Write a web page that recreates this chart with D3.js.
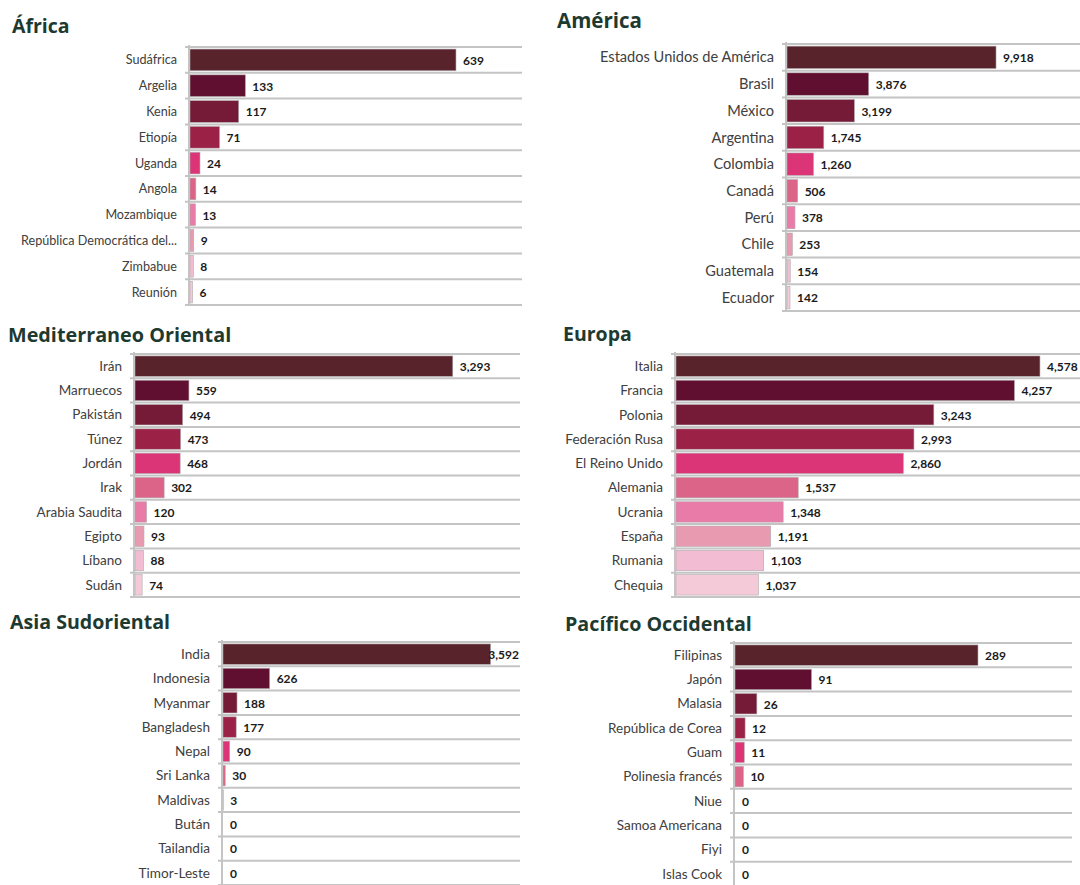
<!DOCTYPE html>
<html>
<head>
<meta charset="utf-8">
<script src="https://cdn.jsdelivr.net/npm/d3@7"></script>
<style>
	body { margin: 0; background: #fff; }
	svg { display: block; }
	.title { font-family: "Open Sans", sans-serif; font-weight: 700; fill: #1e3a30; }
	.cat text { font-family: Lato, sans-serif; fill: #404040; }
	.val { font-family: Lato, sans-serif; font-weight: 700; font-size: 12px; fill: #1a1a1a; }
</style>
</head>
<body>
<div id="chart"></div>
<script>
// data
const africaCountries = ["Sudáfrica", "Argelia", "Kenia", "Etiopía", "Uganda", "Angola", "Mozambique", "República Democrática del...", "Zimbabue", "Reunión"];
const africaValues = [639, 133, 117, 71, 24, 14, 13, 9, 8, 6];

const americaCountries = ["Estados Unidos de América", "Brasil", "México", "Argentina", "Colombia", "Canadá", "Perú", "Chile", "Guatemala", "Ecuador"];
const americaValues = [9918, 3876, 3199, 1745, 1260, 506, 378, 253, 154, 142];

const medCountries = ["Irán", "Marruecos", "Pakistán", "Túnez", "Jordán", "Irak", "Arabia Saudita", "Egipto", "Líbano", "Sudán"];
const medValues = [3293, 559, 494, 473, 468, 302, 120, 93, 88, 74];

const europaCountries = ["Italia", "Francia", "Polonia", "Federación Rusa", "El Reino Unido", "Alemania", "Ucrania", "España", "Rumania", "Chequia"];
const europaValues = [4578, 4257, 3243, 2993, 2860, 1537, 1348, 1191, 1103, 1037];

const asiaCountries = ["India", "Indonesia", "Myanmar", "Bangladesh", "Nepal", "Sri Lanka", "Maldivas", "Bután", "Tailandia", "Timor-Leste"];
const asiaValues = [3592, 626, 188, 177, 90, 30, 3, 0, 0, 0];

const pacificoCountries = ["Filipinas", "Japón", "Malasia", "República de Corea", "Guam", "Polinesia francés", "Niue", "Samoa Americana", "Fiyi", "Islas Cook"];
const pacificoValues = [289, 91, 26, 12, 11, 10, 0, 0, 0, 0];

const rankColors = ["#58232b", "#610f31", "#751b37", "#9c2147", "#dc3577", "#dc6489", "#e97ba8", "#e89ab1", "#f2bdd2", "#f4cad9"];

// layout of each panel
const panels = [
	{ title: "África", names: africaCountries, values: africaValues, max: 800,
	  tx: 12, ty: 33, ts: 19.5, fs: 12.6, x0: 189, x1: 522, top: 47, bottom: 305 },
	{ title: "América", names: americaCountries, values: americaValues, max: 13950,
	  tx: 557, ty: 28, ts: 20.5, fs: 14.6, x0: 786, x1: 1080, top: 44, bottom: 311 },
	{ title: "Mediterraneo Oriental", names: medCountries, values: medValues, max: 4000,
	  tx: 8, ty: 342, ts: 19.8, fs: 13.5, x0: 134, x1: 520, top: 354, bottom: 597 },
	{ title: "Europa", names: europaCountries, values: europaValues, max: 5094,
	  tx: 563, ty: 341, ts: 19.5, fs: 13.6, x0: 675, x1: 1080, top: 354, bottom: 597 },
	{ title: "Asia Sudoriental", names: asiaCountries, values: asiaValues, max: 4000,
	  tx: 10, ty: 629, ts: 19.6, fs: 13.6, x0: 222, x1: 520, top: 642, bottom: 885 },
	{ title: "Pacífico Occidental", names: pacificoCountries, values: pacificoValues, max: 402,
	  tx: 565, ty: 631, ts: 19.7, fs: 13.5, x0: 734, x1: 1072, top: 643, bottom: 886 }
];

const svg = d3.select("#chart").append("svg")
	.attr("width", 1080)
	.attr("height", 885);

const fmt = d3.format(",");

panels.forEach(p => {
	const g = svg.append("g");
	const data = p.names.map((n, i) => ({ name: n, value: p.values[i], rank: i }));

	const x = d3.scaleLinear().domain([0, p.max]).range([p.x0, p.x1]);
	const y = d3.scaleBand()
		.domain(p.names)
		.range([p.top, p.bottom])
		.paddingInner(0.16)
		.paddingOuter(0.08);

	g.append("text")
		.attr("class", "title")
		.attr("x", p.tx)
		.attr("y", p.ty)
		.style("font-size", p.ts + "px")
		.text(p.title);

	// row separators
	const step = y.step();
	g.selectAll("line.grid")
		.data(d3.range(p.names.length + 1))
		.enter().append("line")
		.attr("class", "grid")
		.attr("x1", p.x0 - 4)
		.attr("x2", p.x1)
		.attr("y1", i => p.top + i * step)
		.attr("y2", i => p.top + i * step)
		.attr("stroke", "#c4c4c4")
		.attr("stroke-width", 2);

	g.selectAll("rect")
		.data(data.filter(d => d.value > 0))
		.enter().append("rect")
		.attr("x", x(0) + 1)
		.attr("y", d => y(d.name))
		.attr("width", d => x(d.value) - x(0))
		.attr("height", y.bandwidth())
		.attr("fill", d => rankColors[d.rank])
		.attr("stroke", "#b0a8aa")
		.attr("stroke-width", 0.6);

	// category axis
	const yAxisG = g.append("g")
		.attr("class", "cat")
		.attr("transform", `translate(${p.x0},0)`)
		.call(d3.axisLeft(y).tickSize(0).tickPadding(12));
	yAxisG.select(".domain").remove();
	yAxisG.selectAll("text")
		.attr("dy", "0.35em")
		.style("font-size", p.fs + "px");

	g.append("line")
		.attr("x1", p.x0)
		.attr("x2", p.x0)
		.attr("y1", p.top - 2)
		.attr("y2", p.bottom)
		.attr("stroke", "#c4c4c4")
		.attr("stroke-width", 2);

	// value labels
	g.selectAll("text.val")
		.data(data)
		.enter().append("text")
		.attr("class", "val")
		.attr("y", d => y(d.name) + y.bandwidth() / 2)
		.attr("dy", "0.4em")
		.text(d => fmt(d.value))
		.each(function (d) {
			const w = this.getComputedTextLength();
			let lx = x(d.value) + 8;
			if (lx + w > p.x1) lx = p.x1 - w - 1;
			d3.select(this).attr("x", lx);
		});
});
</script>
</body>
</html>
